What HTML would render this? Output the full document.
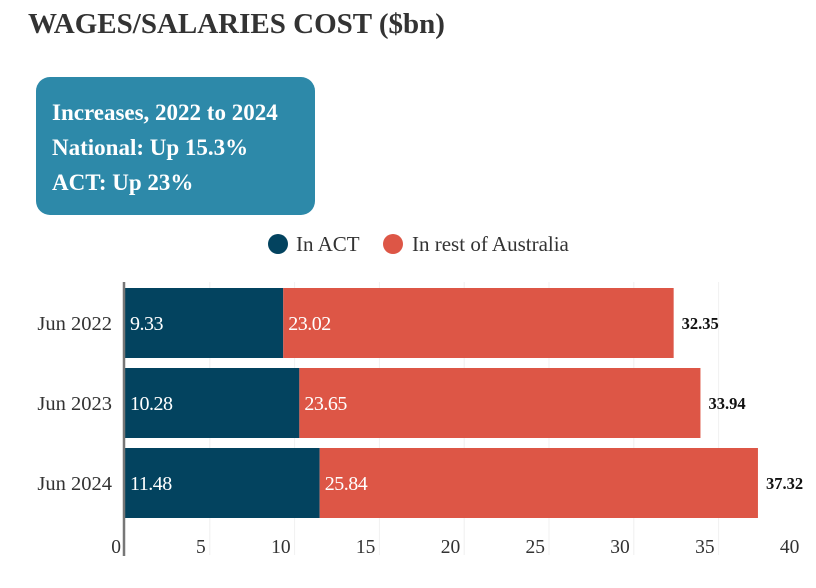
<!DOCTYPE html>
<html><head><meta charset="utf-8"><style>
body{margin:0;background:#fff;width:816px;height:588px;overflow:hidden;font-family:"Liberation Serif",serif}
#title{position:absolute;left:28px;top:8px;font-size:29px;font-weight:bold;color:#333;letter-spacing:0px}
#box{position:absolute;left:36px;top:77px;width:279px;height:138px;background:#2d89a9;border-radius:14px;color:#fff;font-weight:bold;font-size:23px;box-sizing:border-box;padding:18px 0 0 16px;line-height:35px;white-space:nowrap}
svg{position:absolute;left:0;top:0}
</style></head><body>
<div id="title">WAGES/SALARIES COST ($bn)</div>
<div id="box">Increases, 2022 to 2024<br>National: Up 15.3%<br>ACT: Up 23%</div>
<svg id="c" width="816" height="588"></svg>
<script>
const categories=["Jun 2022","Jun 2023","Jun 2024"];
const actValues=[9.33,10.28,11.48];
const restValues=[23.02,23.65,25.84];
const totals=[32.35,33.94,37.32];
const ticks=[0,5,10,15,20,25,30,35,40];
const svg=document.getElementById('c');
const NS="http://www.w3.org/2000/svg";
const x0=125,k=16.96;
const xs=v=>x0+v*k;
const ys=i=>288+i*80;
const bh=70;
function mk(t,a,txt){const e=document.createElementNS(NS,t);for(const p in a)e.setAttribute(p,a[p]);if(txt!==undefined)e.textContent=txt;svg.appendChild(e);return e;}
let e=mk('circle',{cx:278,cy:244,r:10,fill:'#03435f'});

e=mk('text',{x:296,y:251,'font-size':21,fill:'#333'},'In ACT');

e=mk('circle',{cx:393,cy:244,r:10,fill:'#dd5646'});

e=mk('text',{x:412,y:251,'font-size':21,fill:'#333'},'In rest of Australia');

ticks.forEach(t=>{
  if(t>0&&t<40){e=mk('line',{x1:xs(t),x2:xs(t),y1:282,y2:555,stroke:'#f0f0f0','stroke-width':1});
  }
  e=mk('text',{x:xs(t)-4,y:553,'text-anchor':'end','font-size':19.5,fill:'#333'},String(t));
  
});
categories.forEach((c,i)=>{
  const y=ys(i);
  e=mk('text',{x:112,y:y+bh/2+7,'text-anchor':'end','font-size':20.5,fill:'#333'},c);
  
  e=mk('rect',{x:xs(0),y:y,width:xs(actValues[i])-xs(0),height:bh,fill:'#03435f'});
  
  e=mk('rect',{x:xs(actValues[i]),y:y,width:xs(actValues[i]+restValues[i])-xs(actValues[i]),height:bh,fill:'#dd5646'});
  
  e=mk('text',{x:xs(0)+5,y:y+bh/2+7,'font-size':20,fill:'#fff','letter-spacing':'-0.5'},actValues[i].toFixed(2));
  
  e=mk('text',{x:xs(actValues[i])+5,y:y+bh/2+7,'font-size':20,fill:'#fff','letter-spacing':'-0.5'},restValues[i].toFixed(2));
  
  e=mk('text',{x:xs(actValues[i]+restValues[i])+8,y:y+bh/2+6,'font-size':16.5,'font-weight':'bold',fill:'#111'},totals[i].toFixed(2));
  
});
e=mk('line',{x1:124,x2:124,y1:282,y2:556,stroke:'#777','stroke-width':2.5});

</script>
</body></html>
